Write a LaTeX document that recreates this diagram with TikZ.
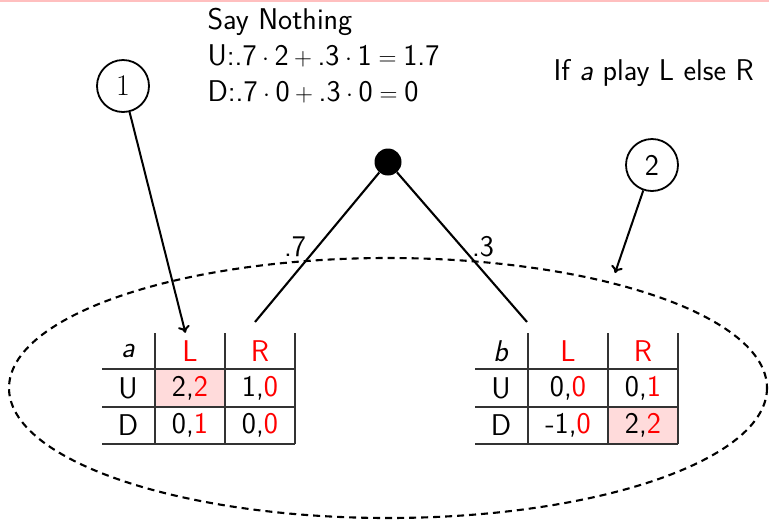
\documentclass[tikz,border=0pt]{standalone}
\usetikzlibrary{arrows.meta}
\renewcommand\familydefault{\sfdefault}
\begin{document}
\begin{tikzpicture}[x=1pt,y=-1pt,
  every node/.style={font=\fontsize{30}{36}\selectfont},
  cell/.style={inner sep=0pt, minimum height=36pt, anchor=center},
  grid/.style={draw=black!80, line width=1.2pt},
  best/.style={fill=red!14},
  edge/.style={line width=2.1pt},
  pointer/.style={line width=2pt, -{To[length=7pt,width=12pt]}},
  marker/.style={circle, draw, line width=1.8pt, minimum size=52pt, inner sep=0pt},
  infoset/.style={dashed, line width=2.1pt, dash pattern=on 7pt off 5pt}]
\useasboundingbox (0,0) rectangle (769,520);
% frame rule at the top
\draw[red!25, line width=2.5pt] (0,1) -- (769,1);

% announcement text
\node[anchor=base west] (t1) at (204,29) {Say Nothing};
\node[anchor=base west] (t2) at (204,65) {U:.7${}\cdot{}$2${}+{}$.3${}\cdot{}$1${}={}$1.7};
\node[anchor=base west] (t3) at (204,101) {D:.7${}\cdot{}$0${}+{}$.3${}\cdot{}$0${}={}$0};
\node[anchor=base west] (rule) at (550,80) {If \textit{a} play L else R};

% chance node and its branches
\node[circle, fill, inner sep=0pt, minimum size=27pt] (root) at (388,162) {};
\coordinate (ea) at (255,322);
\coordinate (eb) at (527,322);
\draw[edge] (root) -- (ea);
\draw[edge] (root) -- (eb);
\node (pa) at (295,247) {.7};
\node (pb) at (483,247) {.3};

% information set
\draw[infoset] (388,388) ellipse [x radius=379, y radius=130];

% game a
\fill[best] (155,369) rectangle (225,407);
\draw[grid] (102,369) -- (295,369) (102,407) -- (295,407) (102,444) -- (295,444);
\draw[grid] (155,333) -- (155,444) (225,333) -- (225,444) (295,333) -- (295,444);
\node[cell] (ha) at (128,351) {\textit{a}};
\node[cell, text=red] (aL) at (190,351) {L};
\node[cell, text=red] (aR) at (260,351) {R};
\node[cell] (aU) at (128,388) {U};
\node[cell] (aD) at (128,425) {D};
\node[cell] (a11) at (190,388) {2,\textcolor{red}{2}};
\node[cell] (a12) at (260,388) {1,\textcolor{red}{0}};
\node[cell] (a21) at (190,425) {0,\textcolor{red}{1}};
\node[cell] (a22) at (260,425) {0,\textcolor{red}{0}};

% game b
\fill[best] (608,407) rectangle (678,444);
\draw[grid] (475,369) -- (678,369) (475,407) -- (678,407) (475,444) -- (678,444);
\draw[grid] (528,333) -- (528,444) (608,333) -- (608,444) (678,333) -- (678,444);
\node[cell] (hb) at (501,351) {\textit{b}};
\node[cell, text=red] (bL) at (568,351) {L};
\node[cell, text=red] (bR) at (643,351) {R};
\node[cell] (bU) at (501,388) {U};
\node[cell] (bD) at (501,425) {D};
\node[cell] (b11) at (568,388) {0,\textcolor{red}{0}};
\node[cell] (b12) at (643,388) {0,\textcolor{red}{1}};
\node[cell] (b21) at (568,425) {-1,\textcolor{red}{0}};
\node[cell] (b22) at (643,425) {2,\textcolor{red}{2}};

% numbered markers
\node[marker] (m1) at (123,86) {\rmfamily 1};
\node[marker] (m2) at (652,165) {2};
\draw[pointer] (m1) -- (aL);
\coordinate (e2) at (615,273);
\draw[pointer] (m2) -- (e2);
\end{tikzpicture}
\end{document}
